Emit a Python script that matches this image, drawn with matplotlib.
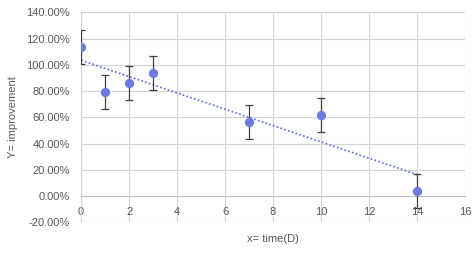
import numpy as np
import matplotlib
matplotlib.use("Agg")
import matplotlib.pyplot as plt
from matplotlib.ticker import FuncFormatter

x_days = [0, 1, 2, 3, 7, 10, 14]
y_improve = [113.6, 79.0, 86.2, 93.6, 56.3, 61.6, 3.8]
y_err = [13, 13, 13, 13, 13, 13, 13]
x_ticks = [0, 2, 4, 6, 8, 10, 12, 14, 16]
y_ticks = [-20, 0, 20, 40, 60, 80, 100, 120, 140]

pt_color = "#6B7BE0"
text_color = "#595959"
grid_color = "#D4D4D4"

plt.rcParams['font.family'] = ['Liberation Sans', 'DejaVu Sans']

fig = plt.figure(figsize=(4.77, 2.61), dpi=100)
ax = fig.add_axes([0.170, 0.148, 0.805, 0.805])

ax.set_xlim(0, 16)
ax.set_ylim(-20, 140)
ax.set_xticks(x_ticks)
ax.set_yticks(y_ticks)
ax.grid(True, color=grid_color, linewidth=0.8)
ax.set_axisbelow(True)

for s in ['top', 'right']:
    ax.spines[s].set_visible(False)
ax.spines['left'].set_color(grid_color)
ax.spines['bottom'].set_position(('data', 0))
ax.spines['bottom'].set_color("#BFBFBF")

ax.tick_params(length=0, labelsize=8, colors=text_color, pad=8)
ax.tick_params(axis='x', pad=8)
ax.yaxis.set_major_formatter(FuncFormatter(lambda v, p: f"{v:.2f}%"))

ax.errorbar(x_days, y_improve, yerr=y_err, fmt='none', ecolor="#404040",
            elinewidth=0.9, capsize=3, capthick=0.9, zorder=3)
ax.scatter(x_days, y_improve, s=32, color=pt_color, zorder=4)

coef = np.polyfit(x_days, y_improve, 1)
xs = np.array([min(x_days), max(x_days)])
ax.plot(xs, np.polyval(coef, xs), linestyle=(0, (1, 1.2)), color=pt_color,
        linewidth=1.3, zorder=2)

ax.set_xlabel("x= time(D)", fontsize=8, color=text_color, labelpad=12)
ax.set_ylabel("Y= improvement", fontsize=8, color=text_color, labelpad=6)

fig.savefig("out.png", dpi=100)
